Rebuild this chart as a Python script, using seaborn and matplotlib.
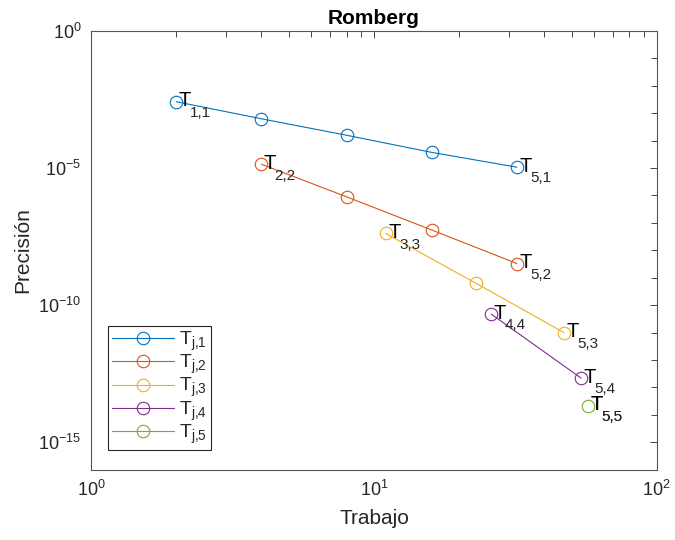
import numpy as np
import pandas as pd
import matplotlib
matplotlib.use("Agg")
import matplotlib.pyplot as plt
import seaborn as sns
from matplotlib.ticker import FixedLocator, NullFormatter, LogLocator, LogFormatterSciNotation

try:
    import matplotlib._mathtext as _mtx
    _mtx.FontConstantsBase.subdrop = 1.4
except Exception:
    pass

# ---------------- data ----------------
work1 = [2, 4, 8, 16, 32]
err1 = [2.6e-3, 6.2e-4, 1.56e-4, 3.7e-5, 1.07e-5]
work2 = [4, 8, 16, 32]
err2 = [1.37e-5, 8.9e-7, 5.5e-8, 3.3e-9]
work3 = [11, 23, 47]
err3 = [4.1e-8, 6.2e-10, 1.0e-11]
work4 = [26, 54]
err4 = [4.7e-11, 2.2e-13]
work5 = [57]
err5 = [2.2e-14]

series_subs = ["j,1", "j,2", "j,3", "j,4", "j,5"]
first_subs = ["1,1", "2,2", "3,3", "4,4", "5,5"]
last_subs = ["5,1", "5,2", "5,3", "5,4", "5,5"]
colors = ["#0072BD", "#D95319", "#EDB120", "#7E2F8E", "#77AC30"]

works = [work1, work2, work3, work4, work5]
errs = [err1, err2, err3, err4, err5]

rows = []
for name, w, e in zip(series_subs, works, errs):
    for wi, ei in zip(w, e):
        rows.append({"Trabajo": wi, "Precision": ei, "serie": name})
df = pd.DataFrame(rows)

# ---------------- style ----------------
sns.set_theme(style="white")
plt.rcParams["font.family"] = ["Liberation Sans", "DejaVu Sans"]
plt.rcParams["mathtext.fontset"] = "custom"
plt.rcParams["mathtext.rm"] = "Liberation Sans"
plt.rcParams["mathtext.it"] = "Liberation Sans"
plt.rcParams["mathtext.bf"] = "Liberation Sans:bold"

fig = plt.figure(figsize=(6.75, 5.4), dpi=100)
ax = fig.add_axes([0.135, 0.130, 0.838, 0.813])


def mt(s):
    return r"$\mathregular{T_{" + s.replace(",", "{,}") + "}}$"


for name, c in zip(series_subs, colors):
    sub = df[df["serie"] == name]
    sns.lineplot(data=sub, x="Trabajo", y="Precision", ax=ax, color=c,
                 marker="o", markersize=9, markerfacecolor="none",
                 markeredgecolor=c, markeredgewidth=0.8, linewidth=0.8,
                 label=mt(name), errorbar=None, sort=False)

ax.set_xscale("log")
ax.set_yscale("log")
ax.set_xlim(1, 100)
ax.set_ylim(1e-16, 1)


def tlabel(x, y, sub):
    ax.annotate("T", xy=(x, y), xytext=(1.8, -3.2), textcoords="offset points",
                fontsize=14.5, ha="left", va="baseline", color="black")
    ax.annotate(sub, xy=(x, y), xytext=(9.6, -11.0), textcoords="offset points",
                fontsize=11, ha="left", va="baseline", color="#262626")


for k, (w, e) in enumerate(zip(works, errs)):
    tlabel(w[0], e[0], first_subs[k])
    tlabel(w[-1], e[-1], last_subs[k])

# ticks
ax.set_xticks([1, 10, 100])
ax.xaxis.set_minor_locator(LogLocator(base=10, subs=np.arange(2, 10), numticks=20))
ax.xaxis.set_minor_formatter(NullFormatter())
ax.yaxis.set_major_locator(FixedLocator([1e-15, 1e-10, 1e-5, 1e0]))
ax.yaxis.set_major_formatter(LogFormatterSciNotation())
ax.yaxis.set_minor_locator(FixedLocator([10.0 ** k for k in range(-16, 1) if k % 5 != 0]))
ax.yaxis.set_minor_formatter(NullFormatter())

axcol = "#262626"
ax.tick_params(which="both", direction="in", top=True, right=True, color=axcol,
               labelcolor=axcol, labelsize=13)
ax.tick_params(which="major", length=5, width=0.6, pad=7)
ax.tick_params(which="minor", length=4, width=0.6)
for s in ax.spines.values():
    s.set_color("#555555")
    s.set_linewidth(0.8)

ax.set_xlabel("Trabajo", fontsize=15, color=axcol, labelpad=7)
ax.set_ylabel("Precisión", fontsize=15, color=axcol, labelpad=4)
ax.set_title("Romberg", fontsize=15, fontweight="bold", color="black", pad=5)

leg = ax.legend(loc="lower left", bbox_to_anchor=(0.03, 0.046), fontsize=14,
                frameon=True, fancybox=False, edgecolor="#262626", framealpha=1,
                handlelength=3.2, handletextpad=0.25, borderpad=0.2,
                labelspacing=0.0, borderaxespad=0)
leg.get_frame().set_linewidth(0.8)

fig.savefig("out.png", dpi=100, facecolor="white")
